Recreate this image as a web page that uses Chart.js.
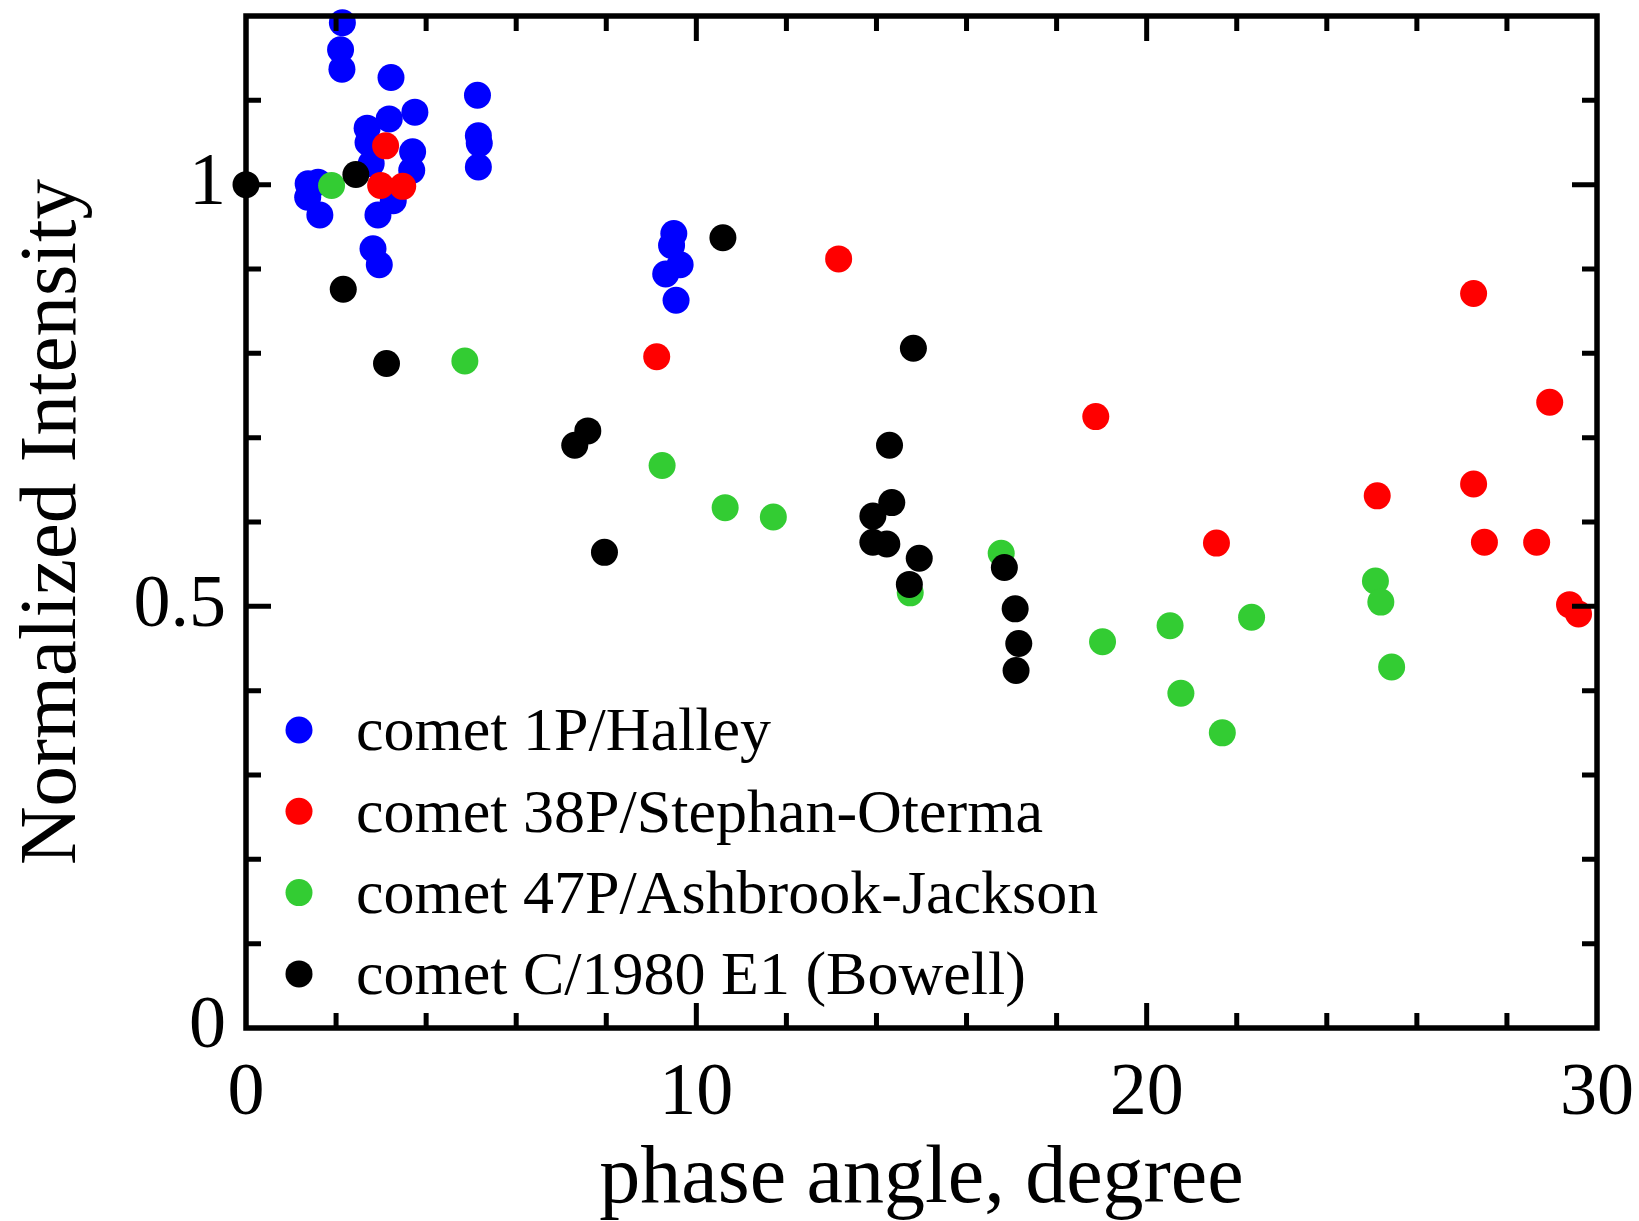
<!DOCTYPE html>
<html>
<head>
<meta charset="utf-8">
<script src="https://cdn.jsdelivr.net/npm/chart.js@4.4.1/dist/chart.umd.min.js"></script>
<style>
  html, body { margin: 0; padding: 0; background: #fff; }
  #wrap { width: 1639px; height: 1221px; }
</style>
</head>
<body>
<div id="wrap"><canvas id="chart" width="1639" height="1221"></canvas></div>
<script>
const seriesNames = [
  'comet 1P/Halley',
  'comet 38P/Stephan-Oterma',
  'comet 47P/Ashbrook-Jackson',
  'comet C/1980 E1 (Bowell)'
];
const seriesColors = ['#0000ff', '#ff0000', '#33cc33', '#000000'];

const halleyPhase = [2.14, 2.10, 2.13, 3.22, 5.14, 3.75, 3.18, 2.69, 2.71, 5.16, 5.18, 3.70, 5.16, 2.78,
  3.68, 1.38, 1.60, 1.37, 1.64, 2.93, 3.27, 2.82, 2.96, 9.50, 9.45, 9.64, 9.32, 9.55];
const halleyIntensity = [1.192, 1.160, 1.137, 1.127, 1.106, 1.086, 1.078, 1.067, 1.050, 1.058, 1.049, 1.039, 1.021, 1.025,
  1.017, 1.001, 1.003, 0.985, 0.964, 0.964, 0.981, 0.924, 0.905, 0.942, 0.928, 0.905, 0.894, 0.863];

const stephanPhase = [3.10, 2.99, 3.48, 9.12, 13.16, 18.87, 21.55, 25.12, 27.26, 27.26, 27.50, 28.66, 28.95, 29.39, 29.59];
const stephanIntensity = [1.046, 0.999, 0.998, 0.796, 0.912, 0.725, 0.575, 0.631, 0.871, 0.645, 0.576, 0.576, 0.742, 0.502, 0.491];

const ashbrookPhase = [1.90, 4.86, 9.24, 10.64, 11.71, 14.75, 16.77, 19.02, 20.52, 20.76, 21.68, 22.33, 25.08, 25.20, 25.44];
const ashbrookIntensity = [0.999, 0.791, 0.667, 0.617, 0.606, 0.516, 0.563, 0.458, 0.477, 0.397, 0.350, 0.487, 0.530, 0.505, 0.428];

const bowellPhase = [0, 2.44, 2.16, 3.12, 7.30, 7.59, 7.96, 10.59, 13.92, 13.92, 14.23, 14.34, 14.29, 14.73,
  14.82, 14.95, 16.84, 17.08, 17.16, 17.10];
const bowellIntensity = [1.000, 1.012, 0.876, 0.788, 0.691, 0.708, 0.564, 0.937, 0.607, 0.576, 0.574, 0.623, 0.691, 0.526,
  0.806, 0.557, 0.546, 0.497, 0.456, 0.424];

const xTickLabels = ['0', '10', '20', '30'];
const yTickLabels = ['0', '0.5', '1'];

const FONT = '"Liberation Serif", "Times New Roman", serif';

function points(xs, ys) {
  return xs.map((x, i) => ({ x: x, y: ys[i] }));
}

// returns the label text for a tick value, or '' when that tick is unlabelled
function labelFor(list, v) {
  const hit = list.find(t => Math.abs(parseFloat(t) - v) < 1e-6);
  return hit === undefined ? '' : hit;
}

const allSeries = [
  points(halleyPhase, halleyIntensity),
  points(stephanPhase, stephanIntensity),
  points(ashbrookPhase, ashbrookIntensity),
  points(bowellPhase, bowellIntensity)
];

// frame with inward ticks on all four sides
const framePlugin = {
  id: 'frame',
  afterDraw(chart) {
    const { ctx, chartArea: a, scales: { x, y } } = chart;
    ctx.save();
    ctx.strokeStyle = '#000';
    ctx.lineWidth = 5;
    ctx.beginPath();
    x.ticks.forEach(t => {
      if (t.value <= x.min || t.value >= x.max) return;
      const px = x.getPixelForValue(t.value);
      const len = labelFor(xTickLabels, t.value) ? 25 : 15;
      ctx.moveTo(px, a.bottom); ctx.lineTo(px, a.bottom - len);
      ctx.moveTo(px, a.top); ctx.lineTo(px, a.top + len);
    });
    y.ticks.forEach(t => {
      if (t.value <= y.min + 1e-6 || t.value >= y.max - 1e-6) return;
      const py = y.getPixelForValue(t.value);
      const len = labelFor(yTickLabels, t.value) ? 25 : 15;
      ctx.moveTo(a.left, py); ctx.lineTo(a.left + len, py);
      ctx.moveTo(a.right, py); ctx.lineTo(a.right - len, py);
    });
    ctx.stroke();
    ctx.lineWidth = 5.5;
    ctx.strokeRect(a.left, a.top, a.right - a.left, a.bottom - a.top);
    ctx.restore();
  }
};

const legendPlugin = {
  id: 'insetLegend',
  afterDraw(chart) {
    const { ctx, chartArea: a } = chart;
    ctx.save();
    ctx.font = '62px ' + FONT;
    ctx.textAlign = 'left';
    ctx.textBaseline = 'middle';
    chart.data.datasets.forEach((ds, i) => {
      const cy = a.top + 714 + i * 81.3;
      ctx.fillStyle = ds.backgroundColor;
      ctx.beginPath();
      ctx.arc(a.left + 53, cy, 13.5, 0, Math.PI * 2);
      ctx.fill();
      ctx.fillStyle = '#000';
      ctx.fillText(ds.label, a.left + 110, cy + 4);
    });
    ctx.restore();
  }
};

const ctx = document.getElementById('chart').getContext('2d');
new Chart(ctx, {
  type: 'scatter',
  data: {
    datasets: allSeries.map((pts, i) => ({
      label: seriesNames[i],
      data: pts,
      backgroundColor: seriesColors[i],
      borderWidth: 0,
      pointRadius: 13.5,
      pointHoverRadius: 13.5,
      clip: false,
      order: 4 - i
    }))
  },
  options: {
    responsive: false,
    animation: false,
    devicePixelRatio: 1,
    layout: { padding: { top: 16, right: 42, left: 0, bottom: 0 } },
    plugins: {
      legend: { display: false },
      tooltip: { enabled: false }
    },
    scales: {
      x: {
        type: 'linear',
        min: 0,
        max: 30,
        grid: { display: false, drawTicks: false },
        border: { display: false },
        ticks: {
          stepSize: 2,
          autoSkip: false,
          maxRotation: 0,
          padding: 22,
          color: '#000',
          font: { family: FONT, size: 74 },
          callback: v => labelFor(xTickLabels, v)
        },
        title: {
          display: true,
          text: 'phase angle, degree',
          color: '#000',
          padding: 0,
          font: { family: FONT, size: 82, lineHeight: 1.0 }
        },
        afterFit(s) {
          s.height = 193;
          s.paddingLeft = 0;
          s.paddingRight = 0;
        }
      },
      y: {
        type: 'linear',
        min: 0,
        max: 1.2,
        grid: { display: false, drawTicks: false },
        border: { display: false },
        ticks: {
          stepSize: 0.1,
          autoSkip: false,
          padding: 20,
          color: '#000',
          font: { family: FONT, size: 74 },
          callback: v => labelFor(yTickLabels, v)
        },
        title: {
          display: true,
          text: 'Normalized Intensity',
          color: '#000',
          padding: { top: 5, bottom: 0 },
          font: { family: FONT, size: 81 }
        },
        afterFit(s) {
          s.width = 246;
          s.paddingTop = 0;
          s.paddingBottom = 0;
        }
      }
    }
  },
  plugins: [framePlugin, legendPlugin]
});
</script>
</body>
</html>
